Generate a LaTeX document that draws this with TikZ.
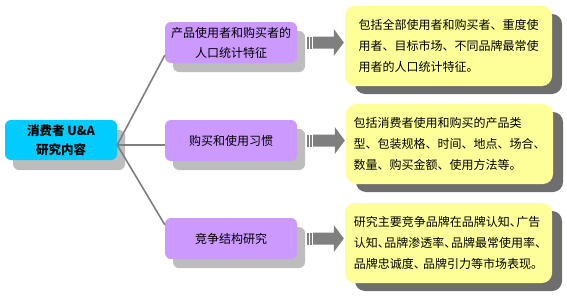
\documentclass[tikz,border=0pt]{standalone}
\usepackage{fontspec}
\setmainfont{Noto Sans CJK SC}
\usetikzlibrary{shadows,calc}
\definecolor{rootfill}{HTML}{00CCFF}
\definecolor{midfill}{HTML}{CC99FF}
\definecolor{leaffill}{HTML}{FFFF99}
\definecolor{shlight}{HTML}{BDBDBD}
\definecolor{shdark}{HTML}{6E6E6E}
\definecolor{arrgray}{HTML}{7F7F7F}
\newcommand\hdun{\makebox[0.55em][l]{、}}
\begin{document}
\begin{tikzpicture}[x=1pt,y=-1pt,
  rootbox/.style={rounded corners=6pt, inner sep=0pt, align=center, fill=rootfill,
    minimum width=112pt, minimum height=40pt,
    font=\fontsize{12.5}{19}\selectfont\bfseries,
    drop shadow={shadow xshift=8pt, shadow yshift=-10pt, fill=shlight, opacity=1}},
  midbox/.style={rounded corners=6pt, inner sep=0pt, align=center, fill=midfill,
    minimum width=132pt, minimum height=41pt,
    font=\fontsize{12}{20}\selectfont,
    drop shadow={shadow xshift=8pt, shadow yshift=-9pt, fill=shlight, opacity=1}},
  leafbox/.style={rounded corners=10pt, inner sep=0pt, align=left, fill=leaffill,
    minimum width=207pt, minimum height=80pt,
    font=\fontsize{12}{21}\selectfont,
    drop shadow={shadow xshift=10pt, shadow yshift=-8pt, fill=shdark, opacity=1}},
  conn/.style={draw=arrgray, line width=1.6pt},
  arr/.style={fill=arrgray}]
\useasboundingbox (0,0) rectangle (567,297);

\node[rootbox] (r) at (61,140) {消费者 U\&A\\研究内容};
\node[midbox] (m1) at (231,42.5) {产品使用者和购买者的\\人口统计特征};
\node[midbox] (m2) at (231,140.5) {购买和使用习惯};
\node[midbox] (m3) at (231,238.5) {竞争结构研究};

\node[leafbox] (l1) at (448.5,46) {包括全部使用者和购买者、重度使\\用者、目标市场、不同品牌最常使\\用者的人口统计特征。};
\node[leafbox] (l2) at (449.5,144) {包括消费者使用和购买的产品类\\型、包装规格、时间、地点、场合、\\数量、购买金额、使用方法等。};
\node[leafbox] (l3) at (448.5,243) {研究主要竞争品牌在品牌认知\hdun 广告\\认知\hdun 品牌渗透率\hdun 品牌最常使用率\hdun\\品牌忠诚度\hdun\ 品牌引力等市场表现。};

\coordinate (hub) at ($(r.east)+(0,5)$);
\draw[conn] (hub) -- ($(m1.south west)+(0,-8)$);
\draw[conn] (hub) -- ($(m2.west)+(0,4.5)$);
\draw[conn] (hub) -- ($(m3.north west)+(0,7)$);

\foreach \a/\b in {m1/l1,m2/l2,m3/l3}{
  \path (\a.east) ++(10,0) coordinate (s);
  \path (\b.west |- \a.east) ++(-1,0) coordinate (t);
  \fill[arr] ($(s)+(0,-6)$) rectangle ($(s)+(2,6)$);
  \fill[arr] ($(s)+(3,-6)$) rectangle ($(s)+(4.5,6)$);
  \fill[arr] ($(s)+(6,-6)$) -- ($(t)+(-10,-6)$) -- ($(t)+(-10,-13.5)$) -- (t)
    -- ($(t)+(-10,13.5)$) -- ($(t)+(-10,6)$) -- ($(s)+(6,6)$) -- cycle;
}
\end{tikzpicture}
\end{document}
